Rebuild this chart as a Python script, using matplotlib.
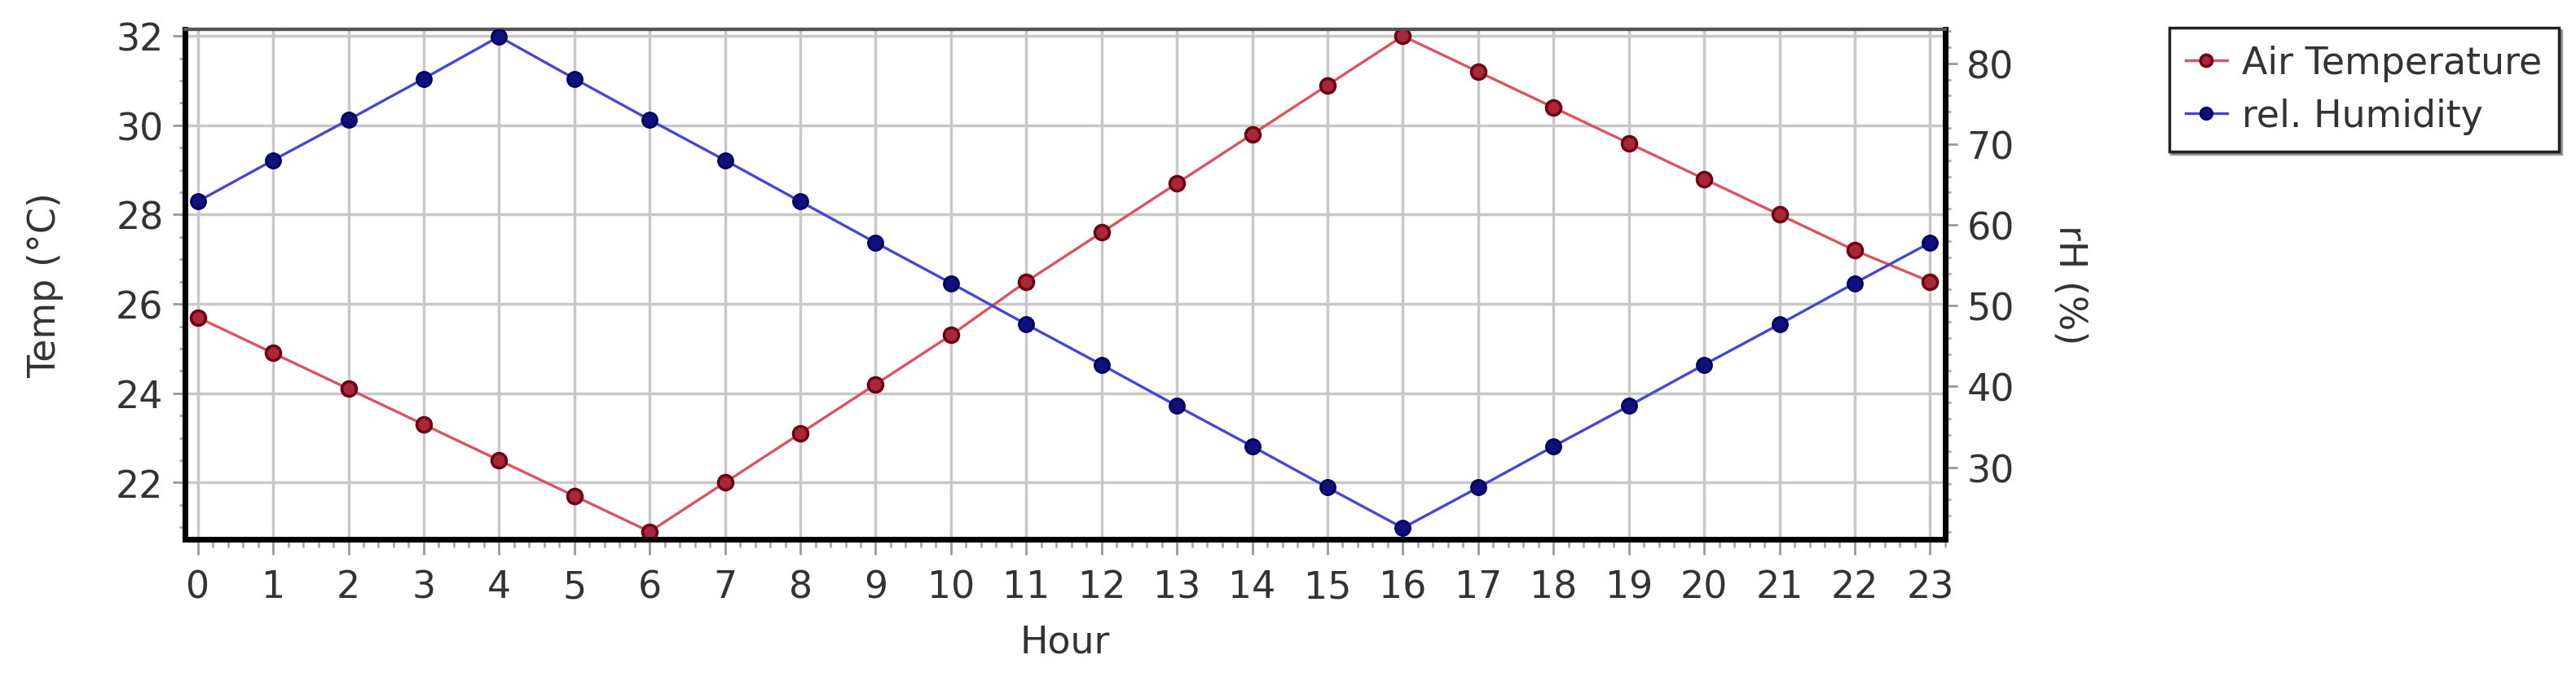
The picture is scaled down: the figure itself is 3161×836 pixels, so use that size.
import numpy as np
import matplotlib
matplotlib.use("Agg")
import matplotlib.pyplot as plt
from matplotlib.ticker import MultipleLocator

plt.rcParams['font.family'] = ['DejaVu Sans']

# hourly values
hours = list(range(24))
air_temp = [25.7, 24.9, 24.1, 23.3, 22.5, 21.7, 20.9, 22.0, 23.1, 24.2, 25.3, 26.5,
            27.6, 28.7, 29.8, 30.9, 32.0, 31.2, 30.4, 29.6, 28.8, 28.0, 27.2, 26.5]
rel_humidity = [62.9, 68.0, 73.0, 78.1, 83.3, 78.1, 73.0, 68.0, 62.9, 57.8, 52.8, 47.7,
                42.7, 37.6, 32.6, 27.5, 22.5, 27.5, 32.6, 37.6, 42.7, 47.7, 52.8, 57.8]

text_col = "#333333"
fs = 33

fig = plt.figure(figsize=(31.61, 8.37), dpi=100)
ax = fig.add_axes([0.0718, 0.2079, 0.6833, 0.7479])
ax2 = ax.twinx()

#Temperature on the left axis, humidity on the right
l1, = ax.plot(hours, air_temp, color="#d95462", lw=2.4, marker="o", ms=13,
              mfc="#a8283a", mec="#6a0010", mew=2.5, label="Air Temperature", zorder=3)
l2, = ax2.plot(hours, rel_humidity, color="#4646d2", lw=2.4, marker="o", ms=13,
               mfc="#10107a", mec="#000060", mew=2, label="rel. Humidity", zorder=3)

ax.set_xlim(-0.17, 23.2)
ax.set_ylim(20.73, 32.15)
ax2.set_ylim(21.1, 84.2)

ax.set_xticks(hours)
ax.xaxis.set_minor_locator(MultipleLocator(0.2))
ax.yaxis.set_major_locator(MultipleLocator(2))
ax.yaxis.set_minor_locator(MultipleLocator(0.5))
ax2.yaxis.set_minor_locator(MultipleLocator(2))
ax2.set_yticks([30, 40, 50, 60, 70, 80])

ax.grid(True, which="major", color="#c8c8c8", lw=2.5)
ax.set_axisbelow(True)

for a in (ax, ax2):
    a.tick_params(which="major", length=11, width=2, color="#999999",
                  labelsize=fs, labelcolor=text_col, pad=8)
    a.tick_params(which="minor", length=5, width=2, color="#aaaaaa")
    for side in ("left", "bottom", "right"):
        a.spines[side].set_linewidth(5)
        a.spines[side].set_color("black")
    a.spines["top"].set_linewidth(3)
    a.spines["top"].set_color("#555555")

ax.tick_params(axis="x", which="major", length=14, pad=12)
ax.tick_params(axis="x", which="minor", length=7)

ax.set_xlabel("Hour", fontsize=fs, color=text_col)
ax.xaxis.set_label_coords(0.5, -0.165)
ax.set_ylabel("Temp (°C)", fontsize=fs, color=text_col)
ax.yaxis.set_label_coords(-0.069, 0.5)
ax2.set_ylabel("rH (%)", fontsize=fs, color=text_col, rotation=270, va="center")
ax2.yaxis.set_label_coords(1.071, 0.5)

leg = fig.legend(handles=[l1, l2], loc="upper left", bbox_to_anchor=(0.842, 0.958),
                 fontsize=fs, frameon=True, fancybox=False, shadow=True,
                 handlelength=1.1, handletextpad=0.4, borderpad=0.45, labelspacing=0.45,
                 borderaxespad=0, markerscale=0.8)
leg.get_frame().set_edgecolor("#222222")
leg.get_frame().set_linewidth(2.5)
for t in leg.get_texts():
    t.set_color(text_col)

fig.savefig("out.png", dpi=100)
